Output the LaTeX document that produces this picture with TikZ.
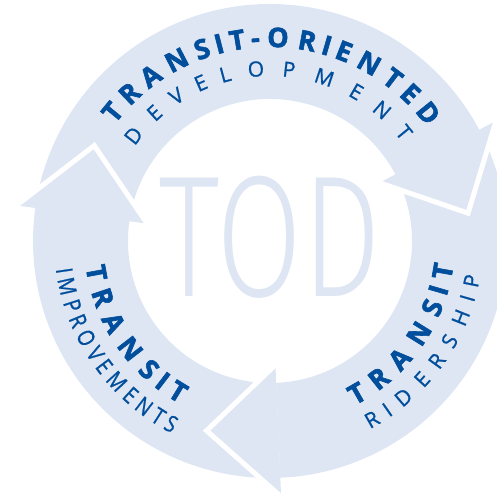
\documentclass[tikz,border=0pt]{standalone}
\usepackage{fontspec}
\setmainfont{Open Sans}
\newfontfamily\heavyfont[FakeBold=2.2]{Open Sans Bold}
\newfontfamily\plainfont[FakeBold=0.9]{Open Sans}
\newfontfamily\narrowfont[FakeBold=0.9, FakeStretch=0.84]{Open Sans}
\newfontfamily\todfont{Fira Sans Light}
\usetikzlibrary{decorations.text}

\definecolor{ringblue}{RGB}{222,230,244}
\definecolor{textblue}{RGB}{0,78,156}

\tikzset{
  ring/.style={fill=ringblue},
  arrowhead/.style={fill=ringblue, draw=white, line width=5pt, line join=miter},
  curved/.style n args={2}{decorate, decoration={text effects along path, text={#1},
      text effects/.cd, text along path, fit text to path,
      characters={text=textblue, font=#2, anchor=base}}},
  boldarc/.style={curved={#1}{\heavyfont\fontsize{27}{27}\selectfont}},
  thinarc/.style={curved={#1}{\plainfont\fontsize{21}{21}\selectfont}},
  narrowarc/.style={curved={#1}{\narrowfont\fontsize{23}{23}\selectfont}}
}

\begin{document}
\begin{tikzpicture}[x=1pt,y=1pt]
  \useasboundingbox (-270,-263) rectangle (227,241);

  % ring segments, clockwise
  \foreach \from/\to in {172/28, 28/-87.5, 272.5/172}
    \fill[ring] (\from:237pt) arc[start angle=\from, end angle=\to, radius=237pt]
      -- (\to:142pt) arc[start angle=\to, end angle=\from, radius=142pt] -- cycle;

  % arrow heads, white gap along the front edges
  \foreach \b/\t in {28/8, -87.5/-108.5, 172/151.5}
    \filldraw[arrowhead] (\b:256pt) -- (\t:200pt) -- (\b:124pt);

  % centre lettering
  \node[text=ringblue, xscale=0.72, inner sep=0pt] (tod) at (0,3.5)
    {\todfont\fontsize{173}{173}\selectfont TOD};

  % top labels (clockwise, tops outward)
  \path[boldarc={TRANSIT-ORIENTED}] (143:194pt) arc[start angle=143, end angle=36, radius=194pt];
  \path[thinarc={DEVELOPMENT}] (145:165pt) arc[start angle=145, end angle=37, radius=165pt];

  % left labels (counter-clockwise, tops inward)
  \path[boldarc={TRANSIT}] (188:186pt) arc[start angle=188, end angle=241, radius=186pt];
  \path[narrowarc={IMPROVEMENTS}] (187.5:216pt) arc[start angle=187.5, end angle=243, radius=216pt];

  % right labels
  \path[boldarc={TRANSIT}] (-62.7:185pt) arc[start angle=-62.7, end angle=-7.5, radius=185pt];
  \path[thinarc={RIDERSHIP}] (-62:213pt) arc[start angle=-62, end angle=-9.5, radius=213pt];
\end{tikzpicture}
\end{document}
